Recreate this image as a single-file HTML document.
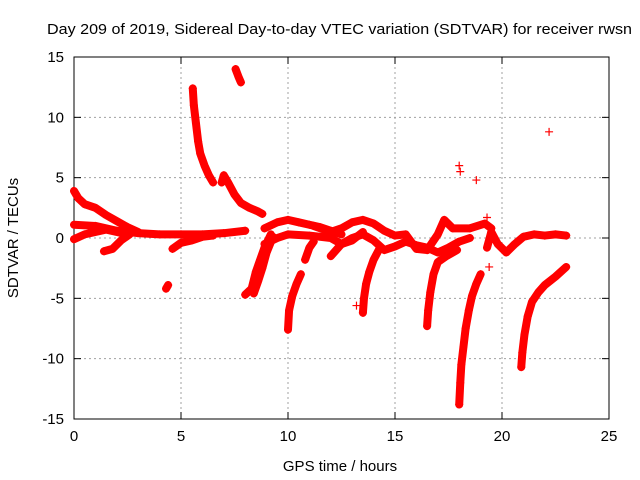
<!DOCTYPE html>
<html><head><meta charset="utf-8">
<style>
body{margin:0;background:#fff;}
svg{display:block;font-family:"Liberation Sans",sans-serif;}
</style></head>
<body>
<svg id="chart" width="640" height="480">
<rect width="640" height="480" fill="#fff"/>
<text x="47" y="34" font-size="15" textLength="585" lengthAdjust="spacingAndGlyphs">Day 209 of 2019, Sidereal Day-to-day VTEC variation (SDTVAR) for receiver rwsn</text>
<g id="grid"></g>
<g id="axes"></g>
<g id="marks"></g>
<text x="340" y="471" font-size="15" text-anchor="middle">GPS time / hours</text>
<text transform="translate(18,238) rotate(-90)" font-size="15" text-anchor="middle">SDTVAR / TECUs</text>
</svg>
<script>
const xTicks=[0,5,10,15,20,25];
const yTicks=[15,10,5,0,-5,-10,-15];
const arcUpperLeft=[[0,3.9],[0.2,3.3],[0.5,2.8],[1,2.5],[1.5,1.9],[2,1.4],[2.5,0.9],[3,0.5]];
const baseline=[[0,1.1],[1,1.0],[2,0.6],[3,0.4],[4,0.3],[5,0.3],[6,0.3],[7,0.4],[8,0.6]];
const lowerLeft=[[0,-0.1],[0.5,0.3],[1.5,0.7],[2.5,0.3]];
const dipLeft=[[1.4,-1.1],[1.8,-0.9],[2.2,-0.2],[2.6,0.3]];
const dipMid=[[4.6,-0.9],[5,-0.4],[5.5,-0.2],[6,0.1],[6.5,0.2]];
const blob43=[[4.3,-4.2],[4.4,-3.9]];
const arcHigh=[[5.55,12.4],[5.6,11],[5.7,9.5],[5.8,8],[5.9,7],[6.1,6],[6.3,5.2],[6.5,4.6]];
const blob77=[[7.55,14],[7.7,13.3],[7.8,12.9]];
const arcC=[[6.9,4.6],[7.0,5.2],[7.2,4.6],[7.5,3.6],[7.8,2.9],[8.2,2.5],[8.6,2.2],[8.8,2.0]];
const rise8a=[[8.0,-4.7],[8.3,-4.2],[8.5,-2.8],[8.7,-1.8],[8.9,-0.8],[9.2,0.3]];
const rise8b=[[8.4,-4.6],[8.6,-3.6],[8.8,-2.5],[9.0,-1.2],[9.3,0.1]];
const rise10=[[10.0,-7.6],[10.05,-6],[10.2,-4.8],[10.4,-3.8],[10.6,-3.0]];
const rise11=[[10.8,-1.8],[11,-0.8],[11.2,-0.3]];
const upper9=[[8.9,0.8],[9.5,1.3],[10,1.5],[10.5,1.3],[11,1.1],[11.5,0.9],[12,0.6],[12.5,0.3]];
const lower9=[[8.9,-0.5],[9.5,0],[10,0.3],[11,0.2],[12,0],[12.5,-0.5],[13,-0.2],[13.5,0.5]];
const band1=[[11.2,1.0],[12,0.5],[12.5,0.8],[13,1.3],[13.5,1.5],[14,1.2],[14.5,0.6],[15,0.2],[15.5,0.3],[16,-0.9],[16.5,-1.0],[17,0.3],[17.3,1.5],[17.7,0.8],[18.5,0.8],[19.2,1.2],[19.5,0.8]];
const band2=[[12,-1.5],[12.5,-0.5],[13,0],[13.5,0.3],[14,-0.2],[14.5,-1.0],[15,-0.7],[15.5,-0.3],[16,-0.6],[16.5,-0.8],[17,-1.2],[17.5,-0.8],[18,-0.3],[18.5,0]];
const band3=[[19.3,-0.8],[19.5,0.5],[19.8,-0.5],[20.2,-1.2],[20.6,-0.5],[21,0.1],[21.5,0.3],[22,0.2],[22.5,0.3],[23,0.2]];
const arc13=[[13.5,-6.2],[13.55,-5],[13.65,-3.8],[13.8,-2.8],[14.0,-1.8],[14.3,-0.8]];
const arc16=[[16.5,-7.3],[16.55,-6],[16.65,-4.5],[16.8,-3],[17.0,-2],[17.4,-1.5],[17.9,-1.0]];
const arc18=[[18.0,-13.8],[18.05,-12],[18.1,-10.5],[18.2,-9],[18.3,-7.5],[18.45,-6],[18.6,-4.8],[18.8,-3.8],[19.0,-3.0]];
const arc21=[[20.9,-10.7],[20.95,-9.5],[21.05,-8],[21.2,-6.5],[21.4,-5.3],[21.7,-4.5],[22,-3.9],[22.5,-3.2],[23,-2.4]];
const outliers=[[13.2,-5.6],[19.4,-2.4],[18.0,6],[18.05,5.5],[18.8,4.8],[22.2,8.8],[19.3,1.7]];
const series=[arcUpperLeft,baseline,lowerLeft,dipLeft,dipMid,blob43,arcHigh,blob77,arcC,rise8a,rise8b,rise10,rise11,upper9,lower9,band1,band2,band3,arc13,arc16,arc18,arc21];

const L=74,R=609,T=57,B=419;
const xs=v=>L+(v-0)/25*(R-L);
const ys=v=>T+(15-v)/30*(B-T);
const NS="http://www.w3.org/2000/svg";
function mk(tag,attrs,parent){const e=document.createElementNS(NS,tag);for(const k in attrs)e.setAttribute(k,attrs[k]);parent.appendChild(e);return e;}
const grid=document.getElementById('grid'),axes=document.getElementById('axes'),marks=document.getElementById('marks');
xTicks.forEach(t=>{
  const x=xs(t);
  if(t>0&&t<25){const g=mk('line',{x1:x,x2:x,y1:T,y2:B,stroke:'#a0a0a0','stroke-dasharray':'2,3'},grid);
  
  }
  mk('line',{x1:x,x2:x,y1:B,y2:B-7,stroke:'#000'},axes);
  mk('line',{x1:x,x2:x,y1:T,y2:T+7,stroke:'#000'},axes);
  const tx=mk('text',{x:x,y:B+22,'font-size':15,'text-anchor':'middle'},axes);tx.textContent=t;
  
  
});
yTicks.forEach(t=>{
  const y=ys(t);
  if(t>-15&&t<15){const g=mk('line',{x1:L,x2:R,y1:y,y2:y,stroke:'#a0a0a0','stroke-dasharray':'2,3'},grid);
  
  }
  mk('line',{x1:L,x2:L+7,y1:y,y2:y,stroke:'#000'},axes);
  mk('line',{x1:R,x2:R-7,y1:y,y2:y,stroke:'#000'},axes);
  const tx=mk('text',{x:L-10,y:y+5,'font-size':15,'text-anchor':'end'},axes);tx.textContent=t;
  
  
});
const fr=mk('rect',{x:L,y:T,width:R-L,height:B-T,fill:'none',stroke:'#000'},axes);


series.forEach(s=>{
  const pl=mk('polyline',{points:s.map(p=>xs(p[0])+','+ys(p[1])).join(' '),fill:'none',stroke:'#f00','stroke-width':8,'stroke-linejoin':'round','stroke-linecap':'round'},marks);
  
  
  s.forEach(p=>drawPlus(p));
});
outliers.forEach(p=>drawPlus(p));
function drawPlus(p){
  const x=xs(p[0]),y=ys(p[1]);
  const e=mk('path',{d:`M${x-4},${y}H${x+4}M${x},${y-4}V${y+4}`,stroke:'#f00','stroke-width':1.2},marks);
  
  
}
</script>
</body></html>
